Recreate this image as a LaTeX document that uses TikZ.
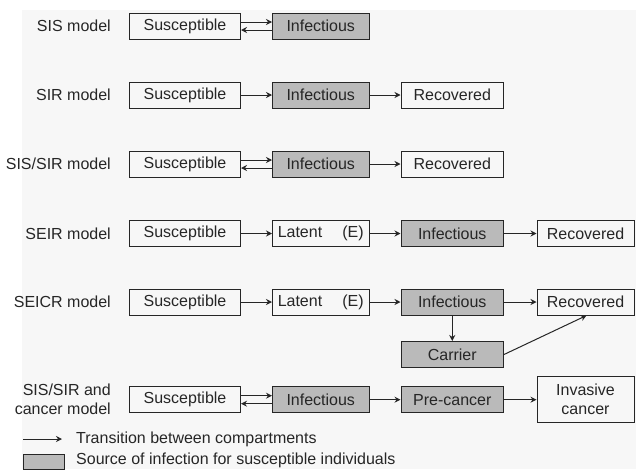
\documentclass[tikz,border=0pt]{standalone}
\usepackage{fontspec}
\setmainfont{Liberation Sans}
\usetikzlibrary{positioning}
\usetikzlibrary{arrows.meta}

\begin{document}
\begin{tikzpicture}[x = 1pt, y = -1pt,
	txt/.style = {inner sep = 0pt, text = black!85, font = \fontsize{16}{19}\selectfont},
	comp/.style = {txt, draw = black!85, line width = 1pt, minimum height = 26pt},
	src/.style = {comp, fill = black!27},
	lbl/.style = {txt, anchor = east, align = right},
	tr/.style = {draw = black!85, line width = 1pt, -{Stealth[length = 6pt, width = 6pt, inset = 2pt]}},
	colA/.style = {minimum width = 111pt},
	colB/.style = {minimum width = 96.5pt},
	colC/.style = {minimum width = 102.5pt},
	colD/.style = {minimum width = 97pt}]
	\useasboundingbox (0, 0) rectangle (636, 469);
	\fill[black!3] (22, 10) rectangle (636, 469);

	% SIS
	\node[lbl] (lSIS) at (111, 26) {SIS model};
	\node[comp, colA] (sisS) at (185, 26) {Susceptible};
	\node[src, colB] (sisI) at (320.75, 26) {Infectious};
	\draw[tr] ([yshift = 4pt]sisS.east) -- ([yshift = 4pt]sisI.west);
	\draw[tr] ([yshift = -4pt]sisI.west) -- ([yshift = -4pt]sisS.east);

	% SIR
	\node[lbl] (lSIR) at (111, 95) {SIR model};
	\node[comp, colA] (sirS) at (185, 95) {Susceptible};
	\node[src, colB] (sirI) at (320.75, 95) {Infectious};
	\node[comp, colC] (sirR) at (452.25, 95) {Recovered};
	\draw[tr] (sirS) -- (sirI);
	\draw[tr] (sirI) -- (sirR);

	% SIS/SIR
	\node[lbl] (lSSR) at (111, 164) {SIS/SIR model};
	\node[comp, colA] (ssrS) at (185, 164) {Susceptible};
	\node[src, colB] (ssrI) at (320.75, 164) {Infectious};
	\node[comp, colC] (ssrR) at (452.25, 164) {Recovered};
	\draw[tr] ([yshift = 4pt]ssrS.east) -- ([yshift = 4pt]ssrI.west);
	\draw[tr] ([yshift = -4pt]ssrI.west) -- ([yshift = -4pt]ssrS.east);
	\draw[tr] (ssrI) -- (ssrR);

	% SEIR
	\node[lbl] (lSEIR) at (111, 233.5) {SEIR model};
	\node[comp, colA] (seirS) at (185, 233.5) {Susceptible};
	\node[comp, colB] (seirE) at (320.75, 233.5) {\makebox[86pt]{Latent\hfill(E)}};
	\node[src, colC] (seirI) at (452.25, 233.5) {Infectious};
	\node[comp, colD] (seirR) at (585.5, 233.5) {Recovered};
	\draw[tr] (seirS) -- (seirE);
	\draw[tr] (seirE) -- (seirI);
	\draw[tr] (seirI) -- (seirR);

	% SEICR
	\node[lbl] (lSEICR) at (111, 302) {SEICR model};
	\node[comp, colA] (seicrS) at (185, 302) {Susceptible};
	\node[comp, colB] (seicrE) at (320.75, 302) {\makebox[86pt]{Latent\hfill(E)}};
	\node[src, colC] (seicrI) at (452.25, 302) {Infectious};
	\node[comp, colD] (seicrR) at (585.5, 302) {Recovered};
	\node[src, colC] (seicrC) at (452.25, 354.5) {Carrier};
	\draw[tr] (seicrS) -- (seicrE);
	\draw[tr] (seicrE) -- (seicrI);
	\draw[tr] (seicrI) -- (seicrR);
	\draw[tr] (seicrI) -- (seicrC);
	\draw[tr] (seicrC.east) -- ([xshift = 1pt]seicrR.south);

	% SIS/SIR and cancer
	\node[lbl] (lCan) at (111, 399.7) {SIS/SIR and\\cancer model};
	\node[comp, colA] (canS) at (185, 399.7) {Susceptible};
	\node[src, colB] (canI) at (320.75, 399.7) {Infectious};
	\node[src, colC] (canP) at (452.25, 399.7) {Pre-cancer};
	\node[comp, colD, minimum height = 46pt, align = center] (canV) at (585.5, 399.7) {Invasive\\cancer};
	\draw[tr] ([yshift = 4pt]canS.east) -- ([yshift = 4pt]canI.west);
	\draw[tr] ([yshift = -4pt]canI.west) -- ([yshift = -4pt]canS.east);
	\draw[tr] (canI) -- (canP);
	\draw[tr] (canP) -- (canV);

	% legend
	\coordinate (legA) at (23, 439);
	\coordinate (legB) at (62, 439);
	\draw[tr] (legA) -- (legB);
	\node[txt, anchor = west] (legT) at (76, 439) {Transition between compartments};
	\node[src, minimum width = 41pt, minimum height = 15.5pt] (legBox) at (43.5, 461.75) {};
	\node[txt, anchor = west] (legS) at (76, 460) {Source of infection for susceptible individuals};
\end{tikzpicture}
\end{document}
